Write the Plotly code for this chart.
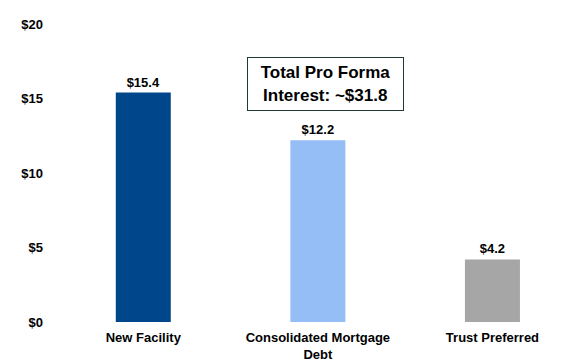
import plotly.graph_objects as go

categories = ["New Facility", "Consolidated Mortgage<br>Debt", "Trust Preferred"]
values = [15.4, 12.2, 4.2]
value_labels = ["$15.4", "$12.2", "$4.2"]
colors = ["#00468B", "#94BEF5", "#A6A6A6"]
y_ticks = [0, 5, 10, 15, 20]
y_tick_labels = ["$0", "$5", "$10", "$15", "$20"]
total_text = "Total Pro Forma<br>Interest: ~$31.8"

font_family = "Liberation Sans, Arial, sans-serif"


def bold(s):
    return "<br>".join("<b>" + part + "</b>" for part in s.split("<br>"))


fig = go.Figure()
fig.add_trace(go.Bar(
    x=list(range(len(categories))),
    y=values,
    marker=dict(color=colors, line=dict(width=0)),
    width=0.315,
    text=[bold(v) for v in value_labels],
    textposition="outside",
    textfont=dict(family=font_family, size=13, color="#000000"),
    cliponaxis=False,
))

fig.add_annotation(
    x=1.044, y=16.0, xref="x", yref="y",
    xanchor="center", yanchor="middle",
    text=bold(total_text),
    showarrow=False,
    font=dict(family=font_family, size=17, color="#000000"),
    width=147, height=44,
    bordercolor="#1F3A33", borderwidth=1, borderpad=4,
    bgcolor="#FFFFFF",
)

# page body has an 8px margin, so the figure is sized to fit the 571x363 window
fig.update_layout(
    width=563, height=355,
    margin=dict(l=48, r=0, t=16, b=41),
    paper_bgcolor="#FFFFFF", plot_bgcolor="#FFFFFF",
    showlegend=False,
    font=dict(family=font_family, size=12, color="#000000"),
)
fig.update_xaxes(
    range=[-0.5, 2.45],
    tickmode="array",
    tickvals=list(range(len(categories))),
    ticktext=[bold(c) for c in categories],
    tickfont=dict(family=font_family, size=13, color="#000000"),
    showgrid=False, zeroline=False, showline=False, ticks="",
    ticklabelstandoff=6,
    automargin=False,
)
fig.update_yaxes(
    range=[0, 20],
    tickmode="array",
    tickvals=y_ticks,
    ticktext=[bold(t) for t in y_tick_labels],
    tickfont=dict(family=font_family, size=13, color="#000000"),
    showgrid=False, zeroline=False, showline=False, ticks="",
    ticklabelstandoff=12,
    automargin=False,
)

fig.write_html("out.html")
